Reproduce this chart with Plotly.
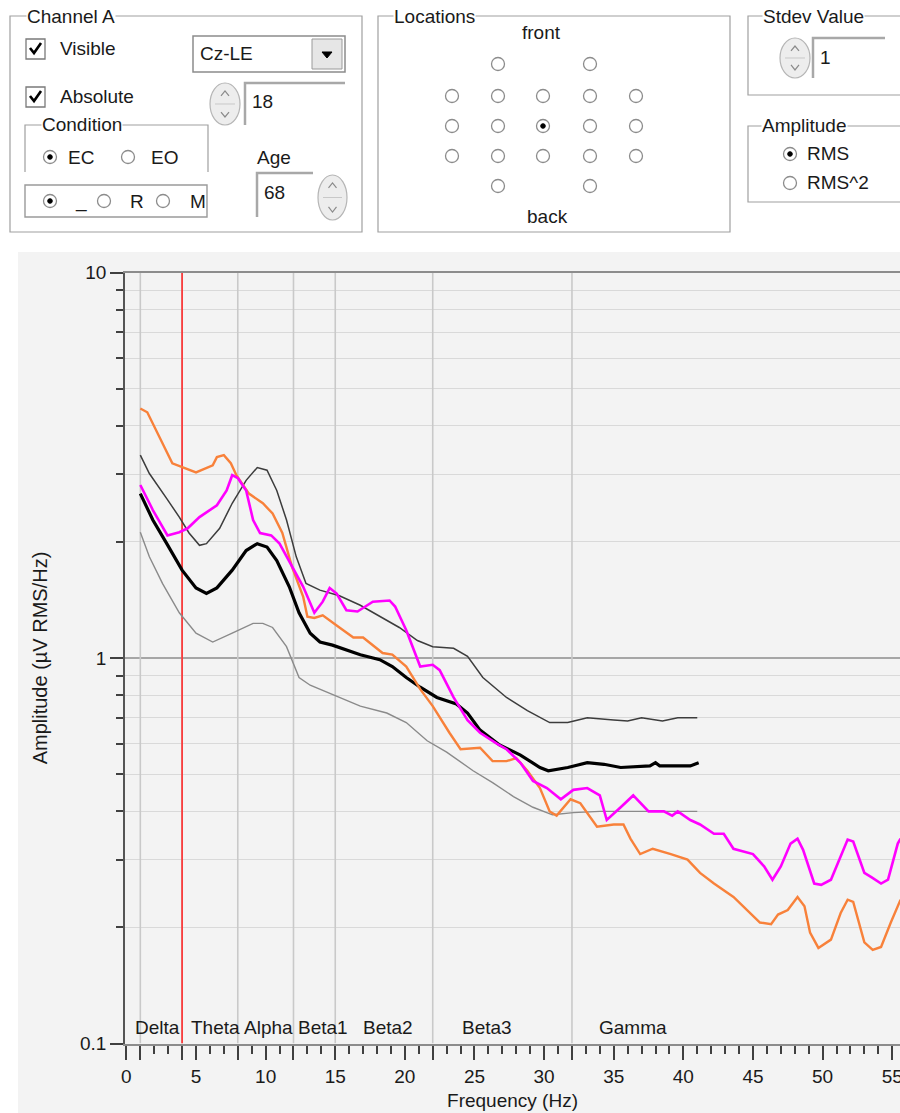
import plotly.graph_objects as go

# ---------------- data ----------------
orange_hz = [1.0, 1.5, 3.3, 5.0, 6.2, 6.5, 7.0, 7.5, 7.9, 8.8, 9.8, 10.5, 11.2, 11.9, 12.7, 13.0, 13.5, 14.1,
             15.3, 16.3, 17.0, 18.4, 19.1, 20.1, 21.1, 22.0, 23.2, 24.0, 25.4, 26.3, 27.3, 28.0, 28.8, 29.7,
             30.4, 30.9, 31.9, 32.6, 33.8, 35.0, 35.7, 36.2, 36.9, 37.8, 39.1, 40.3, 41.2, 42.2, 43.6, 44.8,
             45.5, 46.3, 46.8, 47.5, 48.2, 48.7, 49.1, 49.7, 50.6, 51.3, 51.8, 52.2, 53.0, 53.6, 54.2, 54.9, 55.6]
orange_amp = [4.44, 4.34, 3.2, 3.03, 3.16, 3.32, 3.36, 3.2, 2.98, 2.67, 2.52, 2.37, 2.11, 1.72, 1.44, 1.28, 1.27, 1.29,
              1.20, 1.13, 1.13, 1.03, 1.02, 0.95, 0.83, 0.75, 0.64, 0.58, 0.585, 0.54, 0.54, 0.55, 0.51, 0.46,
              0.40, 0.39, 0.43, 0.42, 0.365, 0.37, 0.37, 0.34, 0.31, 0.32, 0.31, 0.30, 0.277, 0.26, 0.24, 0.218,
              0.206, 0.204, 0.216, 0.222, 0.24, 0.227, 0.194, 0.177, 0.186, 0.218, 0.236, 0.233, 0.183, 0.175, 0.178, 0.206, 0.236]

magenta_hz = [1.0, 1.9, 2.95, 3.8, 4.4, 5.25, 6.5, 7.2, 7.6, 8.0, 8.6, 9.1, 9.6, 10.4, 11.0, 11.9, 12.7, 13.5,
              14.1, 14.6, 15.1, 15.8, 16.6, 17.7, 18.9, 19.3, 20.1, 21.1, 22.0, 22.5, 23.5, 24.5, 25.4, 26.6,
              27.3, 28.3, 29.2, 30.2, 31.2, 32.1, 33.1, 34.0, 34.5, 35.5, 36.4, 37.5, 38.6, 39.2, 39.6, 40.5,
              41.2, 42.2, 42.9, 43.6, 45.0, 45.8, 46.4, 47.0, 47.7, 48.2, 48.6, 49.4, 49.9, 50.6, 51.3, 51.8,
              52.2, 53.0, 53.5, 54.2, 54.7, 55.4, 55.6]
magenta_amp = [2.81, 2.42, 2.08, 2.12, 2.17, 2.32, 2.49, 2.72, 2.98, 2.93, 2.72, 2.28, 2.11, 2.08, 1.98, 1.72, 1.53, 1.31,
               1.40, 1.52, 1.47, 1.33, 1.32, 1.40, 1.41, 1.36, 1.18, 0.95, 0.96, 0.93, 0.79, 0.69, 0.64, 0.60,
               0.58, 0.535, 0.48, 0.46, 0.43, 0.455, 0.46, 0.44, 0.38, 0.41, 0.44, 0.40, 0.40, 0.39, 0.40, 0.38,
               0.37, 0.35, 0.35, 0.32, 0.31, 0.288, 0.266, 0.288, 0.33, 0.34, 0.318, 0.26, 0.258, 0.266, 0.305, 0.338,
               0.334, 0.277, 0.27, 0.26, 0.266, 0.33, 0.34]

mean_hz = [1.0, 1.9, 2.9, 4.0, 5.0, 5.75, 6.5, 7.6, 8.6, 9.4, 10.1, 10.8, 11.7, 12.4, 13.2, 13.9, 14.8, 15.8,
           16.8, 18.2, 19.1, 20.1, 21.1, 22.3, 23.7, 24.5, 25.4, 26.8, 28.3, 29.7, 30.3, 31.7, 33.1, 34.3,
           35.5, 37.6, 38.0, 38.3, 40.5, 41.1]
mean_amp = [2.67, 2.28, 1.98, 1.69, 1.52, 1.47, 1.52, 1.69, 1.90, 1.98, 1.94, 1.79, 1.53, 1.31, 1.16, 1.10, 1.08, 1.05,
            1.02, 0.99, 0.95, 0.89, 0.84, 0.79, 0.76, 0.72, 0.65, 0.595, 0.56, 0.52, 0.51, 0.52, 0.535, 0.53,
            0.52, 0.525, 0.535, 0.525, 0.525, 0.535]

upper_hz = [1.0, 1.65, 2.9, 3.8, 4.5, 5.25, 5.75, 6.7, 7.6, 8.6, 9.4, 10.1, 10.8, 11.5, 12.2, 12.9, 13.9, 15.3,
            16.8, 18.2, 19.6, 20.9, 22.0, 23.5, 24.5, 25.6, 27.3, 28.8, 30.4, 31.7, 33.1, 35.0, 36.0, 37.0,
            38.5, 39.6, 41.0]
upper_amp = [3.36, 3.01, 2.59, 2.32, 2.11, 1.96, 1.98, 2.17, 2.52, 2.89, 3.12, 3.07, 2.72, 2.28, 1.83, 1.56, 1.50, 1.45,
             1.37, 1.28, 1.20, 1.11, 1.07, 1.06, 1.01, 0.89, 0.79, 0.73, 0.68, 0.68, 0.70, 0.69, 0.686, 0.70,
             0.686, 0.70, 0.70]

lower_hz = [1.0, 1.65, 2.6, 3.8, 5.0, 6.2, 7.6, 9.1, 9.8, 10.5, 11.5, 12.4, 13.2, 13.9, 15.3, 16.8, 18.7, 20.1,
            21.6, 23.0, 24.9, 26.3, 27.8, 29.2, 30.6, 32.1, 34.0, 36.9, 41.0]
lower_amp = [2.12, 1.83, 1.56, 1.31, 1.16, 1.10, 1.16, 1.23, 1.23, 1.20, 1.07, 0.89, 0.85, 0.83, 0.79, 0.75, 0.72, 0.68,
             0.61, 0.57, 0.51, 0.475, 0.437, 0.41, 0.392, 0.397, 0.40, 0.40, 0.40]

band_edges = [1, 4, 8, 12, 15, 22, 32]
band_names = ["Delta", "Theta", "Alpha", "Beta1", "Beta2", "Beta3", "Gamma"]
band_label_hz = [2.2, 6.4, 10.2, 14.1, 18.8, 25.9, 36.4]
marker_hz = 4

xtick_vals = [0, 1, 4, 5, 8, 10, 12, 15, 20, 22, 25, 30, 32, 35, 40, 45, 50, 55]
xtick_text = [str(v) if v % 5 == 0 else "" for v in xtick_vals]
ytick_vals = [0.1, 1, 10]
ytick_text = ["0.1", "1", "10"]
ytick_minor = [0.2, 0.3, 0.4, 0.5, 0.6, 0.7, 0.8, 0.9, 2, 3, 4, 5, 6, 7, 8, 9]
y_span = [0.1, 10]

loc_cols = [452, 498, 543, 590, 636]
loc_rows = [64, 96, 126, 156, 186]

# ---------------- helpers for the dialog panel (pixel -> paper) ----------------
W, H = 900, 1113
FONT = "Liberation Sans, Arial, sans-serif"


def px(x):
    return x / W


def py(y):
    return 1 - y / H


shapes = []
ann = []


def text(x, y, s, size=19, anchor="left", color="#1a1a1a", bg=None):
    d = dict(x=px(x), y=py(y), xref="paper", yref="paper", text=s, showarrow=False,
             xanchor=anchor, yanchor="middle", font=dict(family=FONT, size=size, color=color))
    if bg:
        d["bgcolor"] = bg
        d["borderpad"] = 0
    ann.append(d)


def rect(x0, y0, x1, y1, line="#a0a0a0", w=1.2, fill="rgba(0,0,0,0)", layer="above"):
    shapes.append(dict(type="rect", xref="paper", yref="paper", x0=px(x0), x1=px(x1),
                       y0=py(y1), y1=py(y0), line=dict(color=line, width=w), fillcolor=fill, layer=layer))


def path(pts, color="#a0a0a0", w=1.2, fill=None, closed=False):
    s = "M " + " L ".join(f"{px(a):.5f},{py(b):.5f}" for a, b in pts)
    if closed:
        s += " Z"
    shapes.append(dict(type="path", xref="paper", yref="paper", path=s,
                       line=dict(color=color, width=w), fillcolor=fill or "rgba(0,0,0,0)"))


def circle(cx, cy, r, line="#8c8c8c", w=1.3, fill="rgba(0,0,0,0)"):
    shapes.append(dict(type="circle", xref="paper", yref="paper", x0=px(cx - r), x1=px(cx + r),
                       y0=py(cy + r), y1=py(cy - r), line=dict(color=line, width=w), fillcolor=fill))


def radio(cx, cy, sel=False):
    circle(cx, cy, 6.5, fill="white")
    if sel:
        circle(cx, cy, 2.3, line="black", w=1, fill="black")


def groupbox(x0, y0, x1, y1, title, tx):
    rect(x0, y0, x1, y1)
    text(tx, y0, title, bg="white")


def checkbox(x0, y0, label):
    rect(x0, y0, x0 + 19, y0 + 20, line="#7a7a7a", w=1.3, fill="white")
    path([(x0 + 4, y0 + 9), (x0 + 8, y0 + 14), (x0 + 15, y0 + 4)], color="black", w=2.6)
    text(x0 + 32, y0 + 10, label)


def spinner(x0, y0, x1, y1):
    shapes.append(dict(type="circle", xref="paper", yref="paper", x0=px(x0), x1=px(x1),
                       y0=py(y1), y1=py(y0), line=dict(color="#b5b5b5", width=1.2), fillcolor="#ededed"))
    cx = (x0 + x1) / 2
    path([(cx - 4, y0 + 13), (cx, y0 + 8), (cx + 4, y0 + 13)], color="#8a8a8a", w=1.2)
    path([(cx - 4, y1 - 13), (cx, y1 - 8), (cx + 4, y1 - 13)], color="#8a8a8a", w=1.2)
    path([(x0 + 5, (y0 + y1) / 2), (x1 - 5, (y0 + y1) / 2)], color="#c8c8c8", w=1)


def field(x0, y0, x1, y1):
    path([(x0, y1), (x0, y0), (x1, y0)], color="#a8a8a8", w=2.5)


# chart panel background
rect(18, 252, 905, 1120, line="rgba(0,0,0,0)", w=0, fill="#f3f3f3", layer="below")

# Channel A
groupbox(10, 16, 362, 232, "Channel A", 26)
checkbox(26, 39, "Visible")
checkbox(26, 87, "Absolute")
rect(193, 36, 345, 72, line="#8c8c8c", w=1.5, fill="white")
rect(312, 39, 342, 69, line="#9a9a9a", w=1, fill="#e6e6e6")
path([(322, 52), (332, 52), (327, 58)], color="black", w=1, fill="black", closed=True)
text(198, 54, "Cz-LE")
spinner(210, 83, 240, 125)
field(245, 83, 345, 125)
text(250, 101, "18")
path([(25, 172), (25, 125), (208, 125), (208, 172)])
text(41, 125, "Condition", bg="white")
radio(50, 157, True)
text(66, 157, "EC")
radio(128, 157)
text(149, 157, "EO")
text(255, 157, "Age")
rect(25, 185, 207, 217, line="#9a9a9a", w=1.4)
radio(50, 201, True)
text(73, 201, "_")
radio(104, 201)
text(128, 201, "R")
radio(163, 201)
text(188, 201, "M")
field(257, 173, 313, 217)
text(262, 192, "68")
spinner(318, 175, 347, 220)

# Locations
groupbox(378, 16, 730, 232, "Locations", 393)
text(541, 33, "front", anchor="center")
text(547, 216, "back", anchor="center")
for ri, ry in enumerate(loc_rows):
    for ci, cx in enumerate(loc_cols):
        if ri in (0, 4) and ci not in (1, 3):
            continue
        radio(cx, ry, sel=(ri == 2 and ci == 2))

# Stdev Value
groupbox(748, 16, 915, 95, "Stdev Value", 762)
spinner(780, 38, 810, 78)
field(813, 38, 885, 78)
text(818, 57, "1")

# Amplitude
groupbox(748, 126, 915, 202, "Amplitude", 761)
radio(790, 154, True)
text(805, 154, "RMS")
radio(790, 183)
text(805, 183, "RMS^2")

# ---------------- the chart ----------------
fig = go.Figure()
for e in band_edges:
    fig.add_trace(go.Scatter(x=[e, e], y=y_span, mode="lines", line=dict(color="#c9c9c9", width=1.6),
                             hoverinfo="skip"))
fig.add_trace(go.Scatter(x=[marker_hz, marker_hz], y=y_span, mode="lines", line=dict(color="#ff2a2a", width=1.6),
                         hoverinfo="skip"))
fig.add_trace(go.Scatter(x=upper_hz, y=upper_amp, mode="lines", line=dict(color="#3c3c3c", width=1.5), name="+1 SD"))
fig.add_trace(go.Scatter(x=lower_hz, y=lower_amp, mode="lines", line=dict(color="#8a8a8a", width=1.4), name="-1 SD"))
fig.add_trace(go.Scatter(x=mean_hz, y=mean_amp, mode="lines", line=dict(color="black", width=3.2), name="Norm"))
fig.add_trace(go.Scatter(x=orange_hz, y=orange_amp, mode="lines", line=dict(color="#f8813a", width=2.4), name="EO"))
fig.add_trace(go.Scatter(x=magenta_hz, y=magenta_amp, mode="lines", line=dict(color="#ff00ff", width=2.6), name="EC"))

for nm, hz in zip(band_names, band_label_hz):
    ann.append(dict(x=hz, y=py(1027), xref="x", yref="paper", text=nm, showarrow=False,
                    xanchor="center", yanchor="middle", font=dict(family=FONT, size=19, color="#1a1a1a")))

tickfont = dict(family=FONT, size=19, color="#1a1a1a")
fig.update_layout(
    width=W, height=H, margin=dict(l=0, r=0, t=0, b=0),
    paper_bgcolor="white", plot_bgcolor="white", showlegend=False,
    xaxis=dict(domain=[125 / W, 1], range=[-0.1, 55.56], tickmode="array", tickvals=xtick_vals,
               ticktext=xtick_text, ticks="outside", ticklen=14, tickwidth=1.5, tickcolor="#404040",
               minor=dict(tickmode="linear", tick0=0, dtick=1, ticks="outside", ticklen=8, tickwidth=1.5,
                          tickcolor="#404040", showgrid=False),
               showgrid=False, zeroline=False, showline=True, linecolor="#8c8c8c", linewidth=2, mirror=True,
               tickfont=tickfont, ticklabelstandoff=1, ticklabeloverflow="allow", automargin=False,
               title=dict(text="Frequency (Hz)", font=tickfont, standoff=7)),
    yaxis=dict(type="log", domain=[1 - 1043.5 / H, 1 - 272.5 / H], range=[-1, 1], tickmode="array",
               tickvals=ytick_vals, ticktext=ytick_text, ticks="outside", ticklen=13, tickwidth=1.5,
               tickcolor="#404040",
               minor=dict(tickmode="array", tickvals=ytick_minor, ticks="outside", ticklen=7, tickwidth=1.5,
                          tickcolor="#404040", showgrid=True, gridcolor="#d9d9d9", gridwidth=1.3),
               showgrid=True, gridcolor="#a6a6a6", gridwidth=1.5, zeroline=False, showline=True,
               linecolor="#555555", linewidth=1.5, tickfont=tickfont, automargin=False,
               title=dict(text="Amplitude (µV RMS/Hz)", font=dict(family=FONT, size=20, color="#1a1a1a"),
                          standoff=27)),
    shapes=shapes, annotations=ann,
)

fig.write_html("out.html", config={"displayModeBar": False},
               post_script="document.body.style.margin='0';document.body.style.overflow='hidden';")
